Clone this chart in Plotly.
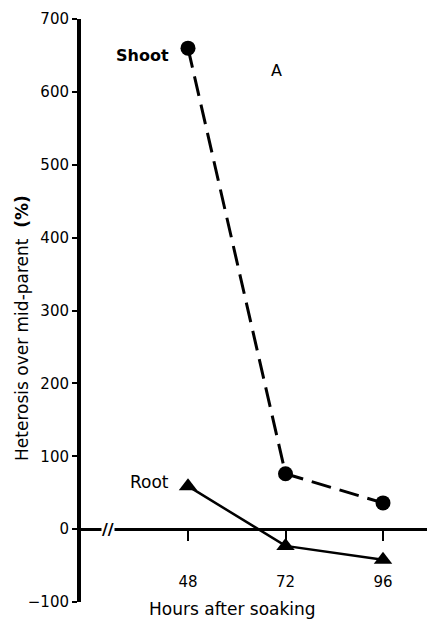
import plotly.graph_objects as go

# Data
hours = [48, 72, 96]
shoot = [660, 76, 36]
root = [59, -23, -42]
y_ticks = [-100, 0, 100, 200, 300, 400, 500, 600, 700]
x_ticks = [48, 72, 96]

FONT = "DejaVu Sans"

fig = go.Figure()
fig.add_trace(go.Scatter(
    x=hours, y=shoot, mode="lines+markers", name="Shoot",
    line=dict(color="black", width=3, dash="20px,9px"),
    marker=dict(symbol="circle", size=15, color="black"),
))
fig.add_trace(go.Scatter(
    x=hours, y=root, mode="lines+markers", name="Root",
    line=dict(color="black", width=2.5),
    marker=dict(symbol="triangle-up", size=16, color="black"),
))

# the page body has an 8px default margin; margins compensate for it
fig.update_layout(
    width=435, height=625,
    margin=dict(l=73, r=8, t=11, b=31),
    paper_bgcolor="white", plot_bgcolor="white",
    showlegend=False,
    font=dict(family=FONT, color="black", size=15),
    xaxis=dict(
        range=[21.66, 108.8],
        tickvals=x_ticks,
        ticks="outside", ticklen=10, tickwidth=2, tickcolor="black",
        showline=True, linecolor="black", linewidth=3,
        showgrid=False, zeroline=False, automargin=False,
        anchor="free", position=0.125,
        ticklabelstandoff=28,
        ticklabeloverflow="allow",
        tickfont=dict(family=FONT, size=15),
    ),
    yaxis=dict(
        range=[-100, 700],
        tickvals=y_ticks,
        ticks="outside", ticklen=5, tickwidth=2, tickcolor="black",
        showline=True, linecolor="black", linewidth=4,
        showgrid=False, zeroline=False, automargin=False,
        ticklabeloverflow="allow",
        tickfont=dict(family=FONT, size=15),
    ),
    annotations=[
        dict(text="Heterosis over mid-parent  <b>(%)</b>", textangle=-90,
             x=-0.1667, y=0.47, xref="paper", yref="paper",
             xanchor="center", yanchor="middle",
             showarrow=False, font=dict(family=FONT, size=17)),
        dict(text="<b>Shoot</b>", x=36.7, y=650, xref="x", yref="y",
             showarrow=False, font=dict(family=FONT, size=16)),
        dict(text="A", x=69.7, y=630, xref="x", yref="y",
             showarrow=False, font=dict(family=FONT, size=16)),
        dict(text="Root", x=38.6, y=65, xref="x", yref="y",
             showarrow=False, font=dict(family=FONT, size=17)),
        dict(text="<b>//</b>", x=28.3, y=0, xref="x", yref="y",
             showarrow=False, bgcolor="white", borderpad=0,
             font=dict(family=FONT, size=16)),
        dict(text="Hours after soaking", x=0.428, y=-0.012,
             xref="paper", yref="paper", yanchor="middle",
             showarrow=False, font=dict(family=FONT, size=17)),
    ],
)

fig.write_html("out.html")
